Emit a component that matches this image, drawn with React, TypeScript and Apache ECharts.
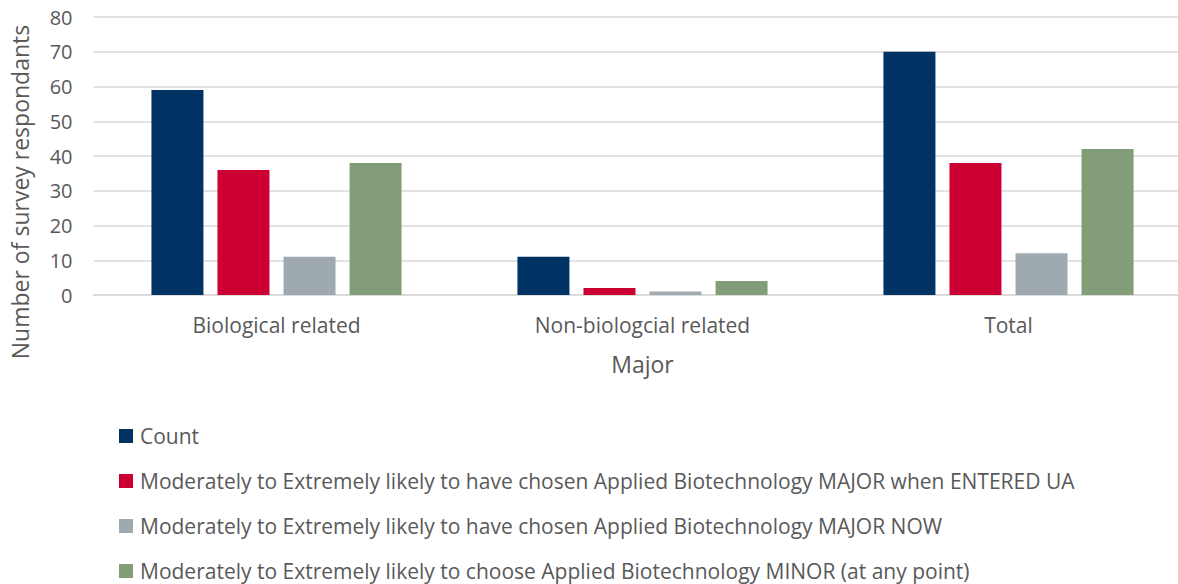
import React, { useEffect, useRef } from "react";
import * as echarts from "echarts";

const categories = ["Biological related", "Non-biologcial related", "Total"];
const seriesNames = [
  "Count",
  "Moderately to Extremely likely to have chosen Applied Biotechnology MAJOR when ENTERED UA",
  "Moderately to Extremely likely to have chosen Applied Biotechnology MAJOR NOW",
  "Moderately to Extremely likely to choose Applied Biotechnology MINOR (at any point)",
];
const countValues = [59, 11, 70];
const enteredValues = [36, 2, 38];
const nowValues = [11, 1, 12];
const minorValues = [38, 4, 42];
const colors = ["#003263", "#cc0033", "#9eaab0", "#839d78"];
const yTicks = { min: 0, max: 80, interval: 10 };

const FONT = "Open Sans";
const TEXT = "#595959";

export default function App() {
  const ref = useRef<HTMLDivElement>(null);
  useEffect(() => {
    if (!ref.current) return;
    const chart = echarts.init(ref.current, undefined, { renderer: "svg" });
    const values = [countValues, enteredValues, nowValues, minorValues];
    chart.setOption({
      animation: false,
      textStyle: { fontFamily: FONT },
      grid: { left: 93.5, right: 8.5, top: 17, height: 278, containLabel: false },
      xAxis: {
        type: "category",
        data: categories,
        name: "Major",
        nameLocation: "middle",
        nameGap: 57,
        nameTextStyle: { fontFamily: FONT, fontSize: 23, color: TEXT },
        axisLine: { show: true, lineStyle: { color: "#d9d9d9", width: 1.5 } },
        axisTick: { show: false },
        axisLabel: { fontFamily: FONT, fontSize: 21, color: TEXT, margin: 19 },
      },
      yAxis: {
        type: "value",
        min: yTicks.min,
        max: yTicks.max,
        interval: yTicks.interval,
        axisLine: { show: false },
        axisTick: { show: false },
        splitLine: { lineStyle: { color: "#d9d9d9", width: 1.5 } },
        axisLabel: { fontFamily: FONT, fontSize: 20, color: TEXT, margin: 21 },
      },
      graphic: [
        {
          type: "text",
          x: 20,
          y: 192,
          rotation: Math.PI / 2,
          style: {
            text: "Number of survey respondants",
            fontFamily: FONT,
            fontSize: 23,
            fill: TEXT,
            textAlign: "center",
            textVerticalAlign: "middle",
          },
        },
      ],
      legend: {
        orient: "vertical",
        left: 119,
        top: 425.5,
        height: 158,
        padding: 0,
        itemWidth: 14,
        itemHeight: 14,
        itemGap: 24,
        icon: "rect",
        textStyle: { fontFamily: FONT, fontSize: 21, lineHeight: 21, color: TEXT, padding: [0, 0, 0, 2] },
        data: seriesNames,
      },
      series: seriesNames.map((name, i) => ({
        name,
        type: "bar",
        data: values[i],
        barWidth: 52,
        barGap: "27%",
        itemStyle: { color: colors[i] },
      })),
    });
    return () => chart.dispose();
  }, []);
  return (
    <div
      style={{ position: "fixed", left: 0, top: 0, width: 1178, height: 584, overflow: "hidden", background: "#fff" }}
    >
      <div ref={ref} style={{ width: 1200, height: 584 }} />
    </div>
  );
}
